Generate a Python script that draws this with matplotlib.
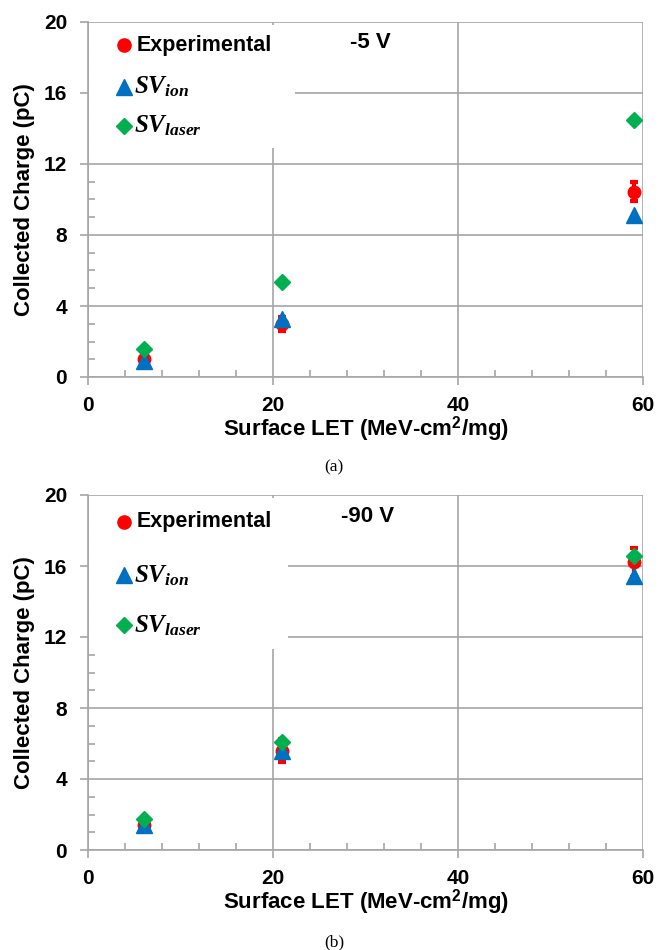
import matplotlib
matplotlib.use("Agg")
import matplotlib.pyplot as plt
from matplotlib.patches import Rectangle
from matplotlib.ticker import MultipleLocator

plt.rcParams['font.family'] = ['Liberation Sans', 'DejaVu Sans']
plt.rcParams['mathtext.fontset'] = 'custom'
plt.rcParams['mathtext.it'] = 'Liberation Serif:italic:bold'
plt.rcParams['mathtext.rm'] = 'Liberation Serif:bold'

# Data
let = [6, 21, 59]
exp_a = [1.0, 3.0, 10.45]
exp_a_err = [0.2, 0.4, 0.55]
ion_a = [0.88, 3.25, 9.12]
laser_a = [1.55, 5.33, 14.47]

exp_b = [1.4, 5.6, 16.2]
exp_b_err = [0.3, 0.65, 0.8]
ion_b = [1.4, 5.55, 15.45]
laser_b = [1.75, 6.07, 16.55]

voltages = ['-5 V', '-90 V']
captions = ['(a)', '(b)']
xlabel = 'Surface LET (MeV-cm$^{\\mathregular{2}}$/mg)'
ylabel = 'Collected Charge (pC)'
legend_labels = ['Experimental', r'$SV_{ion}$', r'$SV_{laser}$']

RED = '#ff0000'
BLUE = '#0070c0'
GREEN = '#00b050'
GRID = '#a6a6a6'

fig = plt.figure(figsize=(6.68, 9.5), dpi=100)
W, H = 668, 950

def make_axes(top_px, bottom_px):
    left, right = 88, 643
    return fig.add_axes([left / W, 1 - bottom_px / H, (right - left) / W, (bottom_px - top_px) / H])

panels = [
    dict(ax=make_axes(22, 377), exp=exp_a, err=exp_a_err, ion=ion_a, laser=laser_a,
         box=(22.4, 12.9), leg_y=[0.935, 0.817, 0.707], volt_xy=(28.3, 18.85), cap_y=467),
    dict(ax=make_axes(495, 850), exp=exp_b, err=exp_b_err, ion=ion_b, laser=laser_b,
         box=(21.6, 11.3), leg_y=[0.924, 0.774, 0.633], volt_xy=(27.4, 18.8), cap_y=942),
]

for i, p in enumerate(panels):
    ax = p['ax']
    ax.set_xlim(0, 60)
    ax.set_ylim(0, 20)
    ax.xaxis.set_major_locator(MultipleLocator(20))
    ax.xaxis.set_minor_locator(MultipleLocator(4))
    ax.yaxis.set_major_locator(MultipleLocator(4))
    ax.yaxis.set_minor_locator(MultipleLocator(1))
    for s in ['top', 'right']:
        ax.spines[s].set_visible(False)
    for s in ['left', 'bottom']:
        ax.spines[s].set_color(GRID)
        ax.spines[s].set_linewidth(1.2)
    ax.grid(True, which='major', color=GRID, linewidth=1.2, zorder=0)
    ax.set_axisbelow(True)
    ax.tick_params(axis='both', which='major', direction='out', length=6, width=1.2,
                   color=GRID, labelsize=15)
    ax.tick_params(axis='x', which='major', pad=7.5)
    ax.tick_params(axis='y', which='major', pad=9)
    ax.tick_params(axis='both', which='minor', direction='in', length=5, width=1.2, color=GRID)
    for lbl in ax.get_xticklabels() + ax.get_yticklabels():
        lbl.set_fontweight('bold')
    ax.set_xlabel(xlabel, fontsize=16, fontweight='bold', labelpad=0)
    ax.set_ylabel(ylabel, fontsize=16, fontweight='bold', labelpad=6)

    # white box behind the legend
    bx, by = p['box']
    ax.add_patch(Rectangle((0.15, by), bx - 0.15, 19.85 - by, facecolor='white',
                           edgecolor='none', zorder=1.5))

    ax.errorbar(let, p['exp'], yerr=p['err'], fmt='o', color=RED, ms=9, elinewidth=3,
                capsize=3, capthick=3, zorder=3, clip_on=False)
    ax.plot(let, p['ion'], '^', color=BLUE, ms=11, zorder=4, clip_on=False)
    ax.plot(let, p['laser'], 'D', color=GREEN, ms=8.5, zorder=5, clip_on=False)

    # legend entries
    mk = [('o', RED, 9.5), ('^', BLUE, 11), ('D', GREEN, 8.5)]
    for (m, c, ms), ly, lab in zip(mk, p['leg_y'], legend_labels):
        ax.plot([0.064], [ly], m, color=c, ms=ms, transform=ax.transAxes, zorder=6, clip_on=False)
        if lab == 'Experimental':
            ax.text(0.088, ly, lab, transform=ax.transAxes, fontsize=15.5, fontweight='bold',
                    va='center', ha='left', zorder=6)
        else:
            ax.text(0.082, ly, lab, transform=ax.transAxes, fontsize=18,
                    va='center', ha='left', zorder=6)

    vx, vy = p['volt_xy']
    ax.text(vx, vy, voltages[i], fontsize=16, fontweight='bold',
            va='center', ha='left', zorder=6)

    fig.text(334 / W, 1 - p['cap_y'] / H, captions[i], fontsize=12.5,
             family=['Liberation Serif', 'DejaVu Serif'], ha='center', va='center')

fig.savefig('out.png', dpi=100)
